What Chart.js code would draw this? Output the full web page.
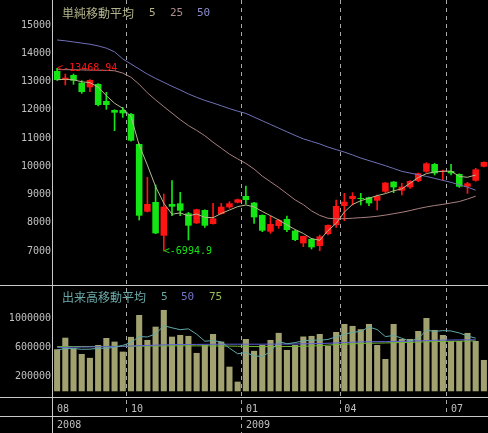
<!DOCTYPE html>
<html lang="ja">
<head>
<meta charset="utf-8">
<title>週足チャート</title>
<script src="https://cdn.jsdelivr.net/npm/chart.js@4.4.1/dist/chart.umd.min.js"></script>
<style>
  html, body { margin: 0; padding: 0; background: #000; overflow: hidden; }
  canvas { display: block; }
</style>
</head>
<body>
<canvas id="chart" width="488" height="433"></canvas>
<script>
// weekly candles, labelled by the last trading day of the week
const weeks = ['2008/08/01','2008/08/08','2008/08/15','2008/08/22','2008/08/29','2008/09/05','2008/09/12','2008/09/19','2008/09/26',
  '2008/10/03','2008/10/10','2008/10/17','2008/10/24','2008/10/31','2008/11/07','2008/11/14','2008/11/21','2008/11/28',
  '2008/12/05','2008/12/12','2008/12/19','2008/12/26','2008/12/30','2009/01/09','2009/01/16','2009/01/23','2009/01/30',
  '2009/02/06','2009/02/13','2009/02/20','2009/02/27','2009/03/06','2009/03/13','2009/03/19','2009/03/27','2009/04/03',
  '2009/04/10','2009/04/17','2009/04/24','2009/05/01','2009/05/08','2009/05/15','2009/05/22','2009/05/29','2009/06/05',
  '2009/06/12','2009/06/19','2009/06/26','2009/07/03','2009/07/10','2009/07/17','2009/07/24','2009/07/28'];

const opens  = [13372,13053,13230,12959,12793,12911,12310,11991,11991,11849,10787,8392,8734,7542,8663,8687,8333,7979,8451,7955,8309,8545,8711,
  8947,8711,8274,7684,7884,8132,7719,7271,7424,7177,7601,7920,8593,8840,8864,8900,8781,9100,9454,9135,9253,9478,9808,10079,9808,9832,9725,9277,9489,9985];
const highs  = [13468.94,13265,13265,13029,13070,12930,12616,12000,12085,11870,10800,9607,9336,9017,9489,9077,8368,8480,8460,8687,8687,8746,8840,
  9301,8720,8280,8238,8121,8238,7743,7531,7448,7566,7930,8805,9041,9065,9041,8910,8982,9430,9460,9395,9490,9760,10126,10100,9867,10067,9735,9430,9926,10160];
const lows   = [13040,12876,12900,12581,12640,12133,12015,11259,11731,10890,8097,8380,7610,6994.9,8250,8250,7389,7970,7837,7950,8300,8510,8700,
  8663,7979,7684,7625,7802,7684,7365,7153,7070,7011,7566,7837,8073,8628,8628,8604,8451,9065,9065,8982,9218,9454,9784,9690,9513,9690,9253,9041,9470,9980];
const closes = [13053,13136,13029,12628,13053,12168,12168,11897,11873,10905,8250,8663,7625,8569,8569,8427,7896,8475,7896,8156,8569,8687,8829,
  8805,8191,7719,7955,8097,7743,7389,7531,7129,7519,7920,8593,8746,8947,8840,8687,8947,9419,9253,9277,9478,9749,10103,9749,9844,9749,9277,9395,9890,10150];

// moving averages (5 / 25 / 50 weeks)
const ma5  = [13060,13080,13060,12990,12960,12800,12500,12230,12050,11760,10750,10040,9280,8690,8300,8350,8240,8310,8190,8180,8330,8450,8570,
  8630,8560,8400,8250,8100,7920,7760,7620,7440,7380,7720,7980,8380,8650,8780,8870,8960,9030,9130,9200,9400,9600,9740,9800,9820,9830,9640,9610,9690,null];
const ma25 = [13420,13420,13415,13410,13405,13400,13395,13380,13300,13150,12900,12600,12350,12110,11880,11650,11440,11270,11080,10850,10640,10430,10260,
  10100,9900,9650,9450,9250,9030,8810,8640,8420,8260,8160,8140,8145,8160,8180,8200,8230,8270,8320,8370,8430,8500,8560,8610,8650,8700,8750,8840,8940,null];
const ma50 = [14470,14440,14400,14360,14320,14260,14180,14050,13800,13620,13440,13260,13110,12970,12830,12700,12560,12440,12330,12240,12140,12040,11950,
  11870,11740,11610,11480,11350,11220,11090,10970,10880,10790,10680,10590,10500,10400,10290,10200,10110,10020,9920,9820,9760,9700,9640,9570,9500,9430,9340,9260,9150,null];

// volume and its moving averages (5 / 50 / 75 weeks)
const volumes = [575000,734000,590000,511000,458000,634000,730000,680000,543000,745000,1045000,703000,885000,1114000,748000,771000,758000,525000,
  634000,785000,680000,337000,132000,716000,554000,634000,703000,800000,566000,634000,750000,758000,785000,621000,812000,922000,895000,850000,
  922000,634000,442000,922000,716000,716000,826000,1004000,840000,771000,689000,689000,799000,689000,429000];
const volMa5  = [566000,585000,585000,575000,577000,589000,589000,603000,629000,668000,750000,744000,785000,899000,869000,844000,855000,782000,
  686000,694000,676000,591000,514000,530000,486000,475000,548000,681000,651000,667000,691000,702000,699000,710000,745000,780000,807000,820000,
  880000,845000,749000,764000,727000,686000,724000,837000,820000,831000,826000,799000,758000,727000,null];
const volMa50 = [600000,602000,604000,606000,608000,610000,612000,614000,616000,620000,624000,628000,632000,636000,638000,640000,641000,642000,
  643000,644000,645000,645000,645000,645000,645000,645000,646000,646000,647000,648000,650000,652000,655000,658000,662000,668000,672000,676000,
  678000,680000,680000,682000,684000,686000,690000,694000,698000,700000,702000,704000,705000,705000,null];
const volMa75 = [612000,612000,613000,613000,614000,614000,615000,615000,616000,617000,618000,619000,620000,621000,621000,622000,622000,622000,
  622000,621000,620000,619000,617000,615000,613000,612000,612000,612000,613000,614000,616000,620000,625000,632000,640000,645000,650000,654000,
  658000,660000,662000,665000,668000,670000,674000,678000,680000,682000,684000,686000,688000,690000,null];

const priceTicks = [7000, 8000, 9000, 10000, 11000, 12000, 13000, 14000, 15000];
const volumeTicks = [200000, 600000, 1000000];
const quarterMonths = ['01', '04', '07', '10'];

const MONO = '"DejaVu Sans Mono", "Liberation Mono", monospace';
const CJK = '"Noto Sans CJK JP", sans-serif';
const UP = '#ff1414', DOWN = '#14e614';
const TEXT = '#c0c0c0', FRAME = '#c8c8c8', DASH = '#a8a8a8';

const priceLegend = [
  { text: '単純移動平均', color: '#b4b48c', x: 62, font: '12px ' + CJK },
  { text: '5', color: '#b4b48c', x: 149, font: '11px ' + MONO },
  { text: '25', color: '#b08c8c', x: 170, font: '11px ' + MONO },
  { text: '50', color: '#8c8cc8', x: 197, font: '11px ' + MONO }
];
const volumeLegend = [
  { text: '出来高移動平均', color: '#6aa8a8', x: 62, font: '12px ' + CJK },
  { text: '5', color: '#6aa8a8', x: 161, font: '11px ' + MONO },
  { text: '50', color: '#7474c4', x: 181, font: '11px ' + MONO },
  { text: '75', color: '#94c050', x: 209, font: '11px ' + MONO }
];

// month label on the first week of a quarter (and on the first bar), year on change
const monthStart = weeks.map((w, i) => {
  const m = w.slice(5, 7);
  return i === 0 || (weeks[i - 1].slice(5, 7) !== m && quarterMonths.includes(m));
});
const yearStart = weeks.map((w, i) => i === 0 || weeks[i - 1].slice(0, 4) !== w.slice(0, 4));
const xTicks = weeks.map((w, i) => {
  const month = monthStart[i] ? w.slice(5, 7) : '';
  return yearStart[i] ? [month, w.slice(0, 4)] : month;
});

const candleColors = closes.map((c, i) => c >= opens[i] ? UP : DOWN);

function maLine(data, color, axis){
  return { type: 'line', data: data, borderColor: color, borderWidth: 1, pointRadius: 0, tension: 0, yAxisID: axis, order: 1 };
}

const framePlugin = {
  id: 'frame',
  beforeDatasetsDraw(chart){
    const { ctx, scales: { x } } = chart;
    const rowY = x.top + 18.5;
    ctx.save();
    ctx.strokeStyle = DASH;
    ctx.lineWidth = 1;
    ctx.setLineDash([4, 4]);
    monthStart.forEach((on, i) => {
      if(!on || i === 0) return;
      const px = Math.floor((x.getPixelForValue(i - 1) + x.getPixelForValue(i)) / 2) + 0.5;
      ctx.beginPath();
      ctx.moveTo(px, 0);
      ctx.lineTo(px, yearStart[i] ? chart.height : rowY);
      ctx.stroke();
    });
    ctx.restore();
  },
  afterDatasetsDraw(chart){
    const { ctx, scales: { x, y } } = chart;
    let hi = 0, lo = 0;
    highs.forEach((h, i) => { if(h > highs[hi]) hi = i; });
    lows.forEach((l, i) => { if(l < lows[lo]) lo = i; });
    ctx.save();
    ctx.font = '10px ' + MONO;
    ctx.textAlign = 'left';
    ctx.textBaseline = 'middle';
    ctx.fillStyle = UP;
    ctx.fillText('<-' + highs[hi], x.getPixelForValue(hi), y.getPixelForValue(highs[hi]));
    ctx.fillStyle = DOWN;
    ctx.fillText('<-' + lows[lo], x.getPixelForValue(lo), y.getPixelForValue(lows[lo]));
    ctx.restore();
  },
  afterDraw(chart){
    const { ctx, chartArea, scales: { x, y, yv } } = chart;
    const w = chart.width;
    ctx.save();
    ctx.strokeStyle = FRAME;
    ctx.lineWidth = 1;
    ctx.beginPath();
    ctx.moveTo(chartArea.left - 0.5, 0);
    ctx.lineTo(chartArea.left - 0.5, chart.height);
    [yv.top - 0.5, x.top - 0.5, x.top + 18.5].forEach(py => {
      ctx.moveTo(0, py);
      ctx.lineTo(w, py);
    });
    ctx.stroke();
    ctx.textAlign = 'left';
    ctx.textBaseline = 'middle';
    priceLegend.forEach(item => {
      ctx.font = item.font;
      ctx.fillStyle = item.color;
      ctx.fillText(item.text, item.x, y.top + 13);
    });
    volumeLegend.forEach(item => {
      ctx.font = item.font;
      ctx.fillStyle = item.color;
      ctx.fillText(item.text, item.x, yv.top + 11);
    });
    ctx.restore();
  }
};

function noPadding(scale){
  scale.paddingTop = 0; scale.paddingBottom = 0;
  scale.paddingLeft = 0; scale.paddingRight = 0;
}

function yAxis(min, max, tickList, weight, stackWeight){
  return {
    position: 'left', stack: 'panels', stackWeight: stackWeight, weight: weight,
    min: min, max: max, bounds: 'data',
    grid: { display: false, drawTicks: false }, border: { display: false },
    afterBuildTicks: s => { s.ticks = tickList.map(v => ({ value: v })); },
    afterFit: s => { s.width = 53; noPadding(s); },
    ticks: { color: TEXT, font: { family: MONO, size: 10 }, padding: 2, callback: v => String(v) }
  };
}

new Chart(document.getElementById('chart'), {
  type: 'bar',
  data: {
    labels: weeks,
    datasets: [
      { type: 'bar', data: lows.map((l, i) => [l, highs[i]]), backgroundColor: candleColors, barThickness: 1, grouped: false, yAxisID: 'y', order: 3 },
      { type: 'bar', data: opens.map((o, i) => [o, closes[i]]), backgroundColor: candleColors, barPercentage: 0.8, categoryPercentage: 1, minBarLength: 1, grouped: false, yAxisID: 'y', order: 2 },
      maLine(ma5, '#b8b890', 'y'),
      maLine(ma25, '#a88080', 'y'),
      maLine(ma50, '#7070b8', 'y'),
      { type: 'bar', data: volumes, backgroundColor: '#a2a270', barPercentage: 0.74, categoryPercentage: 1, grouped: false, yAxisID: 'yv', order: 2 },
      maLine(volMa5, '#60a8a8', 'yv'),
      maLine(volMa50, '#6060d8', 'yv'),
      maLine(volMa75, '#70b830', 'yv')
    ]
  },
  options: {
    responsive: false,
    animation: false,
    events: [],
    layout: { padding: 0 },
    plugins: { legend: { display: false }, tooltip: { enabled: false } },
    scales: {
      x: {
        offset: true,
        grid: { display: false, drawTicks: false, offset: true }, border: { display: false },
        afterFit: s => { s.height = 35; noPadding(s); },
        ticks: {
          autoSkip: false, maxRotation: 0, minRotation: 0, align: 'start', padding: 4,
          color: TEXT, font: { family: MONO, size: 10, lineHeight: 1.54 },
          callback: (v, i) => xTicks[i]
        }
      },
      y: yAxis(5761, 15885, priceTicks, 2, 286),
      yv: yAxis(-92000, 1442000, volumeTicks, 1, 112)
    }
  },
  plugins: [framePlugin]
});
</script>
</body>
</html>
